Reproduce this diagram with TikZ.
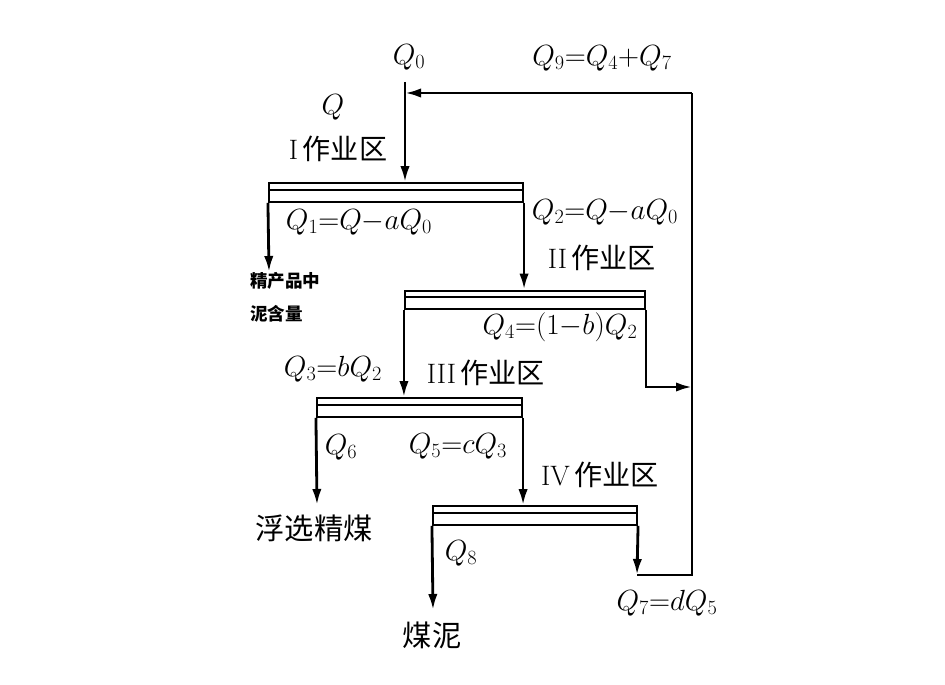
\documentclass[tikz,border=0pt]{standalone}
\usepackage{fontspec}
\newfontfamily\cjk{Noto Sans CJK SC}
\usetikzlibrary{%
		arrows.meta%
	}

\begin{document}
\begin{tikzpicture}[x=0.03cm, y=-0.03cm,
			flow/.style={line width=2.4pt, -{Latex[length=0.48cm, width=0.28cm]}},
			pipe/.style={line width=2.4pt, line join=miter},
			tank/.style={draw, line width=1.8pt, rectangle, inner sep=0pt, minimum height=0.56cm,
				path picture={\draw[line width=1.5pt] ([yshift=-0.2cm]path picture bounding box.north west) -- ([yshift=-0.2cm]path picture bounding box.north east);}},
			eq/.style={font=\fontsize{24}{28}\selectfont, inner sep=0pt},
			zone/.style={font=\fontsize{24}{28}\selectfont, inner sep=0pt},
			prod/.style={font=\fontsize{25}{28}\selectfont\cjk, inner sep=0pt},
			note/.style={font=\fontsize{15}{28}\selectfont\cjk\bfseries, inner sep=0pt, align=left, anchor=west},
		]
			\useasboundingbox (0,0) rectangle (945,685);
			
			% tanks
			\node[tank, minimum width=7.62cm] (t1) at (396,192.5) {};
			\node[tank, minimum width=7.2cm] (t2) at (525,300) {};
			\node[tank, minimum width=6.15cm] (t3) at (419.5,407.5) {};
			\node[tank, minimum width=6.12cm] (t4) at (535,515.5) {};
			
			\coordinate (feed) at (405,82);
			\coordinate (mud) at (269,272);
			\coordinate (clean) at (317,505);
			\coordinate (slime) at (433,610);
			\coordinate (q7) at (637,575);
			\coordinate (ret) at (692,387);
			\coordinate (loopb) at (692,575);
			\coordinate (loopt) at (692,93);
			\coordinate (join) at (405,93);
			
			% flows
			\draw[flow] (feed) -- (feed |- t1.north);
			\draw[flow] (t1.south west) -- (mud);
			\draw[flow] (t1.south east) -- (t1.south east |- t2.north);
			\draw[flow] (t2.south west) -- (t2.south west |- t3.north);
			\draw[flow] (t2.south east) |- (ret);
			\draw[flow] (t3.south west) -- (clean);
			\draw[flow] (t3.south east) -- (t3.south east |- t4.north);
			\draw[flow] (t4.south west) -- (slime);
			\draw[flow] (t4.south east) -- (q7);
			\draw[pipe] (q7) -- (loopb) -- (loopt);
			\draw[flow] (loopt) -- (join);
			
			% labels
			\node[eq] (lq0) at (409,57) {$Q_0$};
			\node[eq] (lq9) at (602,58) {$Q_9{=}Q_4{+}Q_7$};
			\node[eq] (lq) at (333,107) {$Q$};
			\node[zone] (z1) at (338,149) {I\,{\cjk 作业区}};
			\node[eq] (lq1) at (359,222) {$Q_1{=}Q{-}aQ_0$};
			\node[eq] (lq2) at (605,212) {$Q_2{=}Q{-}aQ_0$};
			\node[zone] (z2) at (602,258) {II\,{\cjk 作业区}};
			\node[note] (lmud) at (250,297) {精产品中\\泥含量};
			\node[eq] (lq4) at (560,327) {$Q_4{=}(1{-}b)Q_2$};
			\node[eq] (lq3) at (333,369) {$Q_3{=}bQ_2$};
			\node[zone] (z3) at (486,373) {III\,{\cjk 作业区}};
			\node[eq] (lq6) at (341,447) {$Q_6$};
			\node[eq] (lq5) at (458,446) {$Q_5{=}cQ_3$};
			\node[zone] (z4) at (600,475) {IV\,{\cjk 作业区}};
			\node[prod] (lclean) at (314,528) {浮选精煤};
			\node[eq] (lq8) at (461,553) {$Q_8$};
			\node[prod] (lslime) at (432,635) {煤泥};
			\node[eq] (lq7) at (667,603) {$Q_7{=}dQ_5$};
		\end{tikzpicture}
\end{document}
